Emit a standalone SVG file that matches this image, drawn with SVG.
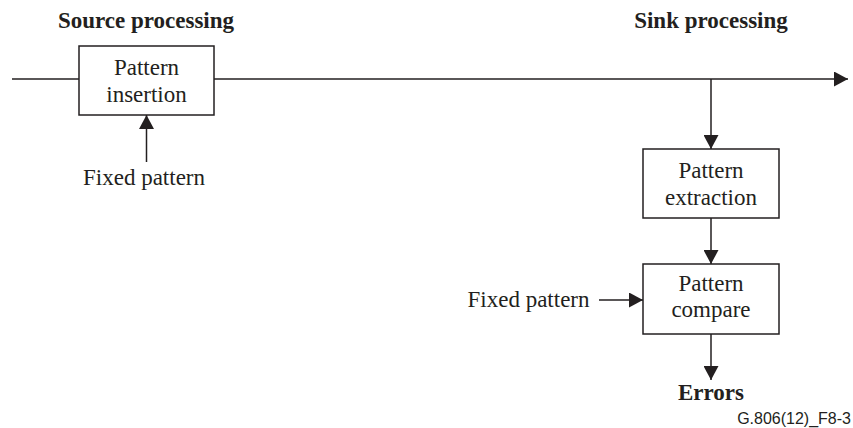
<svg xmlns="http://www.w3.org/2000/svg" width="853" height="428" viewBox="0 0 853 428">
<style>
text{font-family:"Liberation Serif","Times New Roman",serif;font-size:23px;fill:#231f20;text-anchor:middle}
.b{font-weight:bold}
.box{fill:#fff;stroke:#231f20;stroke-width:1.5}
.ln{stroke:#231f20;stroke-width:1.5;fill:none}
.code{font-family:"Liberation Sans",Arial,sans-serif;font-size:16px;text-anchor:end}
</style>
<defs>
<marker id="ah" viewBox="0 0 14 15" refX="14" refY="7.5" markerWidth="14" markerHeight="15" markerUnits="userSpaceOnUse" orient="auto">
<path d="M0,0 L14,7.5 L0,15 Z" fill="#231f20"/>
</marker>
</defs>
<g id="connectors">
<line class="ln" x1="12" y1="79" x2="79" y2="79"/>
<line class="ln" x1="214" y1="79" x2="848" y2="79" marker-end="url(#ah)"/>
<line class="ln" x1="146.5" y1="162" x2="146.5" y2="115" marker-end="url(#ah)"/>
<line class="ln" x1="711" y1="79" x2="711" y2="149" marker-end="url(#ah)"/>
<line class="ln" x1="711" y1="218" x2="711" y2="264" marker-end="url(#ah)"/>
<line class="ln" x1="599" y1="300" x2="643" y2="300" marker-end="url(#ah)"/>
<line class="ln" x1="711" y1="334" x2="711" y2="380" marker-end="url(#ah)"/>
</g>
<g id="title-source"><text class="b" x="146" y="28">Source processing</text></g>
<g id="title-sink"><text class="b" x="711" y="28">Sink processing</text></g>
<g id="pattern-insertion">
<rect class="box" x="79" y="46" width="135" height="69"/>
<text x="146.5" y="75">Pattern</text>
<text x="146.5" y="102">insertion</text>
</g>
<g id="fixed-pattern-1"><text x="144" y="185">Fixed pattern</text></g>
<g id="pattern-extraction">
<rect class="box" x="643" y="149" width="136" height="69"/>
<text x="711" y="178">Pattern</text>
<text x="711" y="205">extraction</text>
</g>
<g id="pattern-compare">
<rect class="box" x="643" y="264" width="136" height="70"/>
<text x="711" y="291">Pattern</text>
<text x="711" y="317">compare</text>
</g>
<g id="fixed-pattern-2"><text x="528.5" y="307">Fixed pattern</text></g>
<g id="errors"><text class="b" x="711" y="400">Errors</text></g>
<g id="code"><text class="code" x="851" y="424">G.806(12)_F8-3</text></g>
</svg>
